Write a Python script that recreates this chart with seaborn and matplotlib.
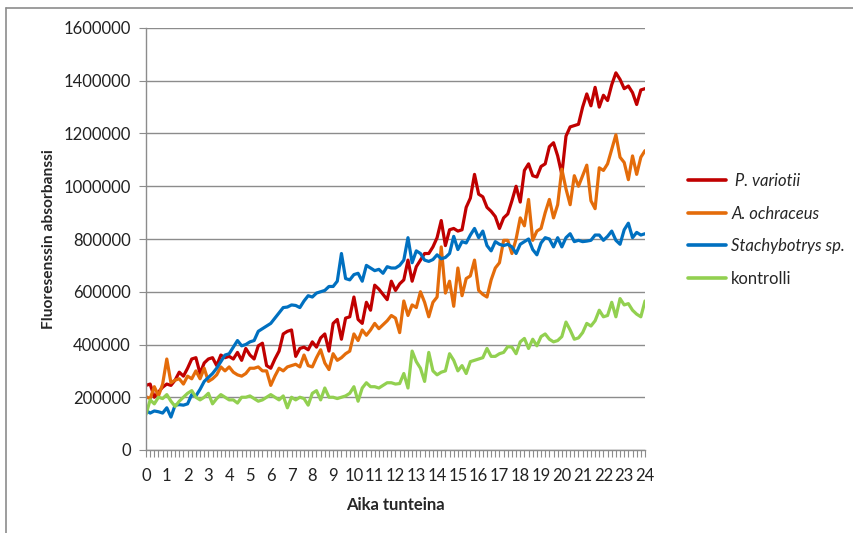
import numpy as np
import pandas as pd
import matplotlib
matplotlib.use("Agg")
import matplotlib.pyplot as plt
from matplotlib.lines import Line2D
import seaborn as sns

hours = [round(i * 0.2, 1) for i in range(121)]
tick_labels = [str(h) for h in range(25)]

p_variotii = [
    245000, 250000, 200000, 220000, 238000, 250000, 245000, 265000, 295000, 280000,
    310000, 345000, 350000, 290000, 330000, 345000, 350000, 320000, 360000, 350000,
    355000, 345000, 370000, 340000, 385000, 360000, 345000, 395000, 405000, 320000,
    310000, 345000, 375000, 440000, 450000, 455000, 355000, 385000, 390000, 380000,
    410000, 390000, 425000, 440000, 375000, 480000, 495000, 420000, 500000, 505000,
    580000, 495000, 480000, 560000, 530000, 625000, 610000, 590000, 570000, 640000,
    605000, 630000, 645000, 720000, 640000, 695000, 720000, 745000, 745000, 770000,
    805000, 870000, 775000, 835000, 840000, 830000, 835000, 920000, 955000, 1045000,
    970000, 960000, 920000, 905000, 885000, 840000, 880000, 895000, 945000, 1000000,
    940000, 1060000, 1085000, 1040000, 1035000, 1075000, 1085000, 1150000, 1165000, 1115000,
    1045000, 1190000, 1225000, 1230000, 1235000, 1300000, 1350000, 1305000, 1375000, 1300000,
    1345000, 1325000, 1385000, 1430000, 1405000, 1370000, 1380000, 1355000, 1310000, 1365000,
    1370000,
]

a_ochraceus = [
    202000, 195000, 240000, 205000, 250000, 345000, 255000, 265000, 270000, 250000,
    280000, 270000, 300000, 270000, 310000, 260000, 270000, 285000, 315000, 300000,
    315000, 295000, 285000, 280000, 290000, 310000, 310000, 315000, 300000, 300000,
    245000, 280000, 310000, 300000, 315000, 320000, 325000, 315000, 360000, 320000,
    315000, 350000, 380000, 330000, 305000, 365000, 340000, 350000, 365000, 375000,
    440000, 415000, 455000, 435000, 455000, 480000, 460000, 475000, 490000, 510000,
    500000, 445000, 565000, 510000, 550000, 540000, 600000, 560000, 505000, 560000,
    580000, 770000, 595000, 640000, 545000, 690000, 585000, 650000, 660000, 720000,
    605000, 590000, 580000, 645000, 690000, 710000, 795000, 795000, 745000, 800000,
    880000, 850000, 950000, 795000, 830000, 840000, 900000, 950000, 880000, 930000,
    1065000, 990000, 930000, 1040000, 1000000, 1040000, 1080000, 945000, 915000, 1070000,
    1060000, 1085000, 1140000, 1195000, 1110000, 1090000, 1025000, 1115000, 1045000, 1110000,
    1135000,
]

stachybotrys = [
    150000, 140000, 148000, 145000, 140000, 160000, 125000, 170000, 172000, 170000,
    175000, 210000, 205000, 230000, 260000, 275000, 290000, 310000, 335000, 360000,
    365000, 390000, 415000, 395000, 400000, 410000, 415000, 450000, 460000, 470000,
    480000, 500000, 520000, 540000, 542000, 550000, 548000, 540000, 565000, 585000,
    580000, 595000, 600000, 605000, 620000, 620000, 640000, 745000, 650000, 645000,
    665000, 670000, 640000, 700000, 690000, 680000, 685000, 670000, 695000, 690000,
    690000, 700000, 720000, 805000, 710000, 755000, 745000, 720000, 715000, 722000,
    740000, 725000, 730000, 745000, 810000, 760000, 790000, 785000, 815000, 840000,
    805000, 830000, 775000, 755000, 790000, 780000, 775000, 780000, 770000, 745000,
    780000, 790000, 800000, 760000, 740000, 785000, 805000, 800000, 770000, 805000,
    770000, 805000, 820000, 790000, 795000, 790000, 792000, 795000, 815000, 815000,
    795000, 810000, 830000, 795000, 780000, 835000, 860000, 805000, 825000, 815000,
    820000,
]

kontrolli = [
    135000, 190000, 175000, 200000, 195000, 210000, 185000, 165000, 185000, 200000,
    215000, 225000, 200000, 190000, 200000, 215000, 175000, 195000, 210000, 200000,
    190000, 190000, 178000, 200000, 200000, 205000, 195000, 185000, 190000, 200000,
    210000, 200000, 190000, 205000, 160000, 200000, 190000, 200000, 195000, 170000,
    215000, 225000, 190000, 235000, 200000, 200000, 195000, 200000, 205000, 215000,
    240000, 185000, 235000, 255000, 240000, 240000, 235000, 245000, 255000, 255000,
    250000, 252000, 290000, 235000, 375000, 335000, 310000, 260000, 370000, 300000,
    285000, 295000, 300000, 365000, 340000, 300000, 320000, 290000, 335000, 340000,
    345000, 350000, 385000, 355000, 355000, 365000, 370000, 392000, 390000, 365000,
    410000, 423000, 385000, 420000, 395000, 430000, 440000, 420000, 410000, 415000,
    430000, 485000, 455000, 420000, 425000, 445000, 480000, 470000, 490000, 530000,
    505000, 510000, 560000, 505000, 574000, 550000, 555000, 530000, 515000, 505000,
    565000,
]

series_names = [" P. variotii", "A. ochraceus", "Stachybotrys sp.", "kontrolli"]
series_values = [p_variotii, a_ochraceus, stachybotrys, kontrolli]
colors = ["#C00000", "#E46C0A", "#0070C0", "#92D050"]

df = pd.concat(
    [pd.DataFrame({"h": hours, "v": vals, "s": name})
     for name, vals in zip(series_names, series_values)],
    ignore_index=True,
)

sns.set_style("white")
plt.rcParams["font.family"] = ["Lato", "DejaVu Sans"]

fig = plt.figure(figsize=(8.54, 5.33), dpi=100)
ax = fig.add_axes([146 / 854, 1 - 450 / 533, (645 - 146) / 854, (450 - 28) / 533])

sns.lineplot(data=df, x="h", y="v", hue="s", palette=colors, linewidth=2.3,
             ax=ax, legend=False, sort=True, estimator=None)

grid_c = "#8C8C8C"
ax.set_xlim(0, 24)
ax.set_ylim(0, 1600000)
ax.set_yticks(np.arange(0, 1600001, 200000))
ax.set_yticklabels([str(int(v)) for v in np.arange(0, 1600001, 200000)])
ax.set_xticks(range(25))
ax.set_xticklabels(tick_labels)
ax.set_xticks(hours, minor=True)
ax.yaxis.grid(True, color=grid_c, linewidth=1.0)
ax.xaxis.grid(False)
ax.set_axisbelow(True)
for side in ["top", "right"]:
    ax.spines[side].set_visible(False)
for side in ["left", "bottom"]:
    ax.spines[side].set_color(grid_c)
    ax.spines[side].set_linewidth(1.0)
ax.tick_params(axis="y", which="major", direction="out", length=5, color=grid_c,
               labelsize=12, labelcolor="#222222", pad=6, left=True)
ax.tick_params(axis="x", which="both", direction="out", length=5, color=grid_c,
               width=0.8, labelsize=12, labelcolor="#222222", pad=8, bottom=True)

ax.set_xlabel("Aika tunteina", fontsize=12, fontweight="bold", labelpad=9)
ax.set_ylabel("Fluoresenssin absorbanssi", fontsize=11.2, fontweight="bold", labelpad=5)

handles = [Line2D([0], [0], color=c, linewidth=2.6) for c in colors]
leg = fig.legend(handles, series_names, loc="upper left",
                 bbox_to_anchor=(673 / 854, 1 - 158 / 533), frameon=False,
                 fontsize=12, handlelength=2.3, handletextpad=0.3,
                 labelspacing=1.0)
for t in leg.get_texts()[:3]:
    t.set_fontstyle("italic")

border = "#8C8C8C"
fig.add_artist(Line2D([6 / 854, 1.0], [1 - 8 / 533, 1 - 8 / 533],
                      transform=fig.transFigure, color=border, linewidth=1.2))
fig.add_artist(Line2D([6 / 854, 6 / 854], [0, 1 - 8 / 533],
                      transform=fig.transFigure, color=border, linewidth=1.2))

fig.savefig("out.png", dpi=100)
